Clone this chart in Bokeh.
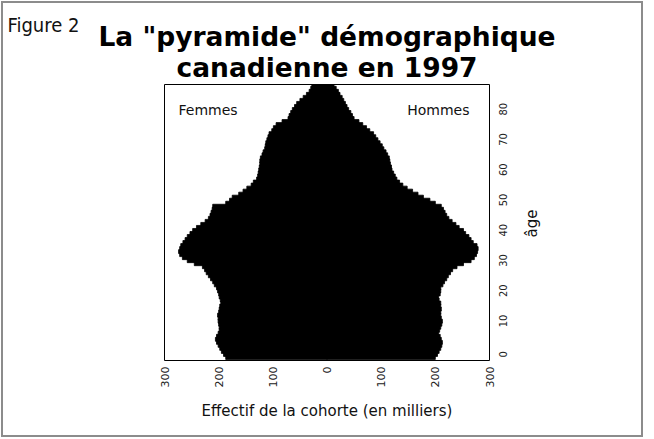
import math
from bokeh.plotting import figure
from bokeh.models import FixedTicker, Label, Range1d, Title
from bokeh.embed import file_html
from bokeh.resources import INLINE

# ---- data (thousands of persons, Canada 1997) ----
ages = list(range(0, 91))
femmes = [187, 191, 195, 198, 201, 204, 206, 204, 201, 199,
          199, 200, 201, 201, 202, 200, 199, 198, 196, 197,
          199, 200, 202, 204, 208, 211, 215, 219, 223, 226,
          230, 245, 258, 267, 272, 274, 272, 270, 266, 262,
          258, 253, 248, 241, 233, 225, 219, 216, 214, 212,
          211, 187, 180, 175, 163, 155, 148, 140, 136, 130,
          128, 127, 126, 125, 124, 124, 123, 120, 118, 115,
          114, 113, 111, 109, 107, 102, 99, 94, 83, 72,
          70, 67, 64, 60, 56, 50, 44, 38, 33, 30,
          28]
hommes = [200, 204, 207, 210, 212, 213, 211, 209, 206, 208,
          210, 212, 213, 211, 210, 210, 211, 210, 210, 207,
          206, 209, 210, 210, 214, 217, 221, 224, 228, 232,
          240, 252, 266, 272, 276, 278, 279, 277, 270, 266,
          262, 256, 252, 244, 238, 231, 225, 221, 218, 215,
          211, 200, 190, 178, 168, 158, 148, 140, 134, 129,
          126, 123, 120, 119, 117, 116, 115, 112, 109, 105,
          102, 98, 94, 90, 86, 79, 73, 66, 59, 50,
          47, 44, 40, 37, 34, 31, 28, 24, 21, 17,
          13]
x_ticks = [-300, -200, -100, 0, 100, 200, 300]
x_tick_labels = ["300", "200", "100", "0", "100", "200", "300"]
y_ticks = [0, 10, 20, 30, 40, 50, 60, 70, 80]
fig_label = "Figure 2"
title_lines = ['La "pyramide" démographique', "canadienne en 1997"]
left_label = "Femmes"
right_label = "Hommes"
x_title = "Effectif de la cohorte (en milliers)"
y_title = "âge"

NARROW = "'Liberation Sans Narrow', 'DejaVu Sans Condensed', sans-serif"
WIDE = "DejaVu Sans"

p = figure(width=638, height=432, output_backend="svg", toolbar_location=None,
           x_range=Range1d(-300, 300), y_range=Range1d(-1, 90.25),
           y_axis_location="right",
           min_border_left=161, min_border_right=152,
           min_border_top=81, min_border_bottom=75)
p.styles = {"margin-left": "3px", "margin-top": "3px",
            "outline": "2px solid #8c8c8c", "outline-offset": "0px"}
p.title.text = ""
p.title.visible = False
p.background_fill_color = "white"
p.border_fill_color = "white"
p.outline_line_color = "black"
p.outline_line_width = 1
p.outline_line_alpha = 1.0
p.grid.visible = False

p.hbar(y=ages, left=[-v for v in femmes], right=0, height=1.3,
       fill_color="black", line_color="black", line_width=0.8)
p.hbar(y=ages, left=0, right=hommes, height=1.3,
       fill_color="black", line_color="black", line_width=0.8)

# titles (closest to the frame first)
t2 = Title(text=title_lines[1], align="center", text_font=WIDE, text_font_size="26.5px",
           text_font_style="bold", text_color="black", standoff=4)
t1 = Title(text=title_lines[0], align="center", text_font=WIDE, text_font_size="26.5px",
           text_font_style="bold", text_color="black", standoff=-8)
t0 = Title(text=fig_label, align="left", text_font=NARROW, text_font_size="20px",
           text_font_style="normal", text_color="#111111", standoff=-28, offset=-157)
p.add_layout(t2, "above")
p.add_layout(t1, "above")
p.add_layout(t0, "above")

xa = p.xaxis[0]
xa.ticker = FixedTicker(ticks=x_ticks)
xa.major_label_overrides = dict(zip(x_ticks, x_tick_labels))
xa.major_label_orientation = math.pi / 2
xa.axis_line_color = None
xa.major_tick_line_color = None
xa.minor_tick_line_color = None
xa.major_tick_out = 0
xa.major_tick_in = 0
xa.major_label_standoff = 6
xa.major_label_text_font = WIDE
xa.major_label_text_font_size = "11px"
xa.major_label_text_color = "#222222"
xa.axis_label = x_title
xa.axis_label_text_font = WIDE
xa.axis_label_text_font_size = "15px"
xa.axis_label_text_font_style = "normal"
xa.axis_label_text_color = "#111111"
xa.axis_label_standoff = 12

ya = p.yaxis[0]
ya.ticker = FixedTicker(ticks=y_ticks)
ya.major_label_orientation = math.pi / 2
ya.axis_line_color = None
ya.major_tick_line_color = None
ya.minor_tick_line_color = None
ya.major_tick_out = 0
ya.major_tick_in = 0
ya.major_label_standoff = 14
ya.major_label_text_font = NARROW
ya.major_label_text_font_size = "11px"
ya.major_label_text_color = "#222222"

# y-axis title as a rotated label in the right side panel (reads bottom-to-top)
p.add_layout(Label(x=17, y=137, x_units="screen", y_units="screen", text=y_title,
                   angle=math.pi / 2, text_font=WIDE, text_font_size="15px",
                   text_align="center", text_baseline="middle", text_color="#111111"),
             "right")

# in-frame labels (screen units relative to the plot frame)
p.add_layout(Label(x=14, y=251, x_units="screen", y_units="screen", text=left_label,
                   text_font=WIDE, text_font_size="14px", text_baseline="alphabetic",
                   text_color="#111111"))
p.add_layout(Label(x=305, y=251, x_units="screen", y_units="screen", text=right_label,
                   text_font=WIDE, text_font_size="14px", text_baseline="alphabetic",
                   text_align="right", text_color="#111111"))

open("out.html", "w").write(file_html(p, INLINE))
